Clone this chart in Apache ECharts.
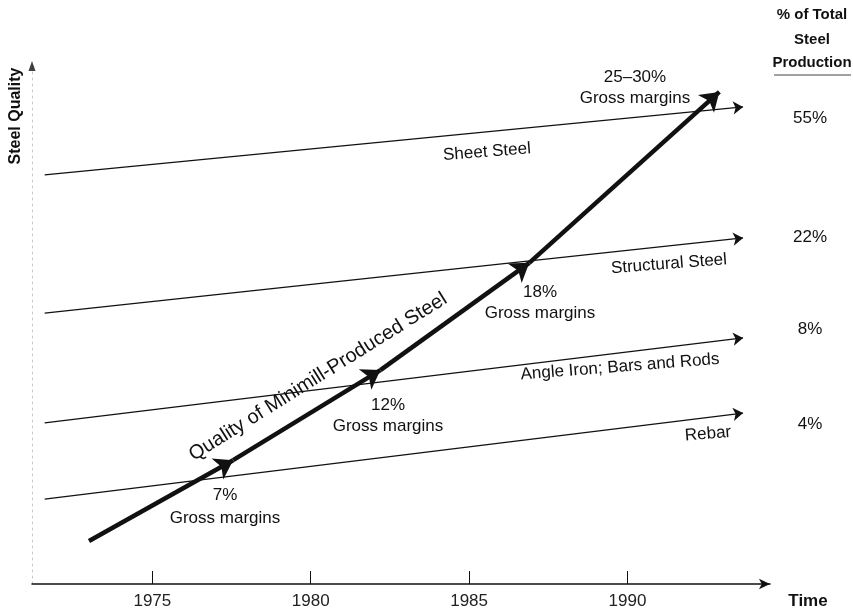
<!DOCTYPE html>
<html>
<head>
<meta charset="utf-8">
<title>Quality of Minimill-Produced Steel</title>
<script src="https://cdn.jsdelivr.net/npm/echarts@6/dist/echarts.min.js"></script>
<style>
    html, body { margin: 0; padding: 0; background: #fff; }
    #chart { width: 853px; height: 611px; }
</style>
</head>
<body>
<div id="chart"></div>
<script>
// time axis
var yearTicks = [1975, 1980, 1985, 1990];
var yearMin = 1971.2;
var yearMax = 1994.5;

// product segments (thin trend arrows), quality on a 0-100 scale
var segmentNames = ['Sheet Steel', 'Structural Steel', 'Angle Iron; Bars and Rods', 'Rebar'];
var segmentStartYear = 1971.6;
var segmentEndYear = 1993.65;
var segmentStartQuality = [79.0, 52.3, 31.1, 16.4];
var segmentEndQuality = [92.1, 66.8, 47.5, 33.0];
var productionShare = ['55%', '22%', '8%', '4%'];

// minimill quality path, arrow tips
var minimillYears = [1973.0, 1977.55, 1982.2, 1986.9, 1992.9];
var minimillQuality = [8.3, 23.9, 41.3, 62.0, 95.0];
var marginLabels = ['7%', '12%', '18%', '25\u201330%'];

var FONT = '"Liberation Sans", Arial, sans-serif';
var INK = '#111';

/**
 * 构造文字元素
 */
function textEl(str, x, y, opts) {
    opts = opts || {};
    return {
        type: 'text',
        x: x,
        y: y,
        rotation: opts.rotation || 0,
        silent: true,
        style: {
            text: str,
            fill: INK,
            font: (opts.weight || 'normal') + ' ' + (opts.size || 17) + 'px ' + FONT,
            textAlign: 'center',
            textVerticalAlign: 'middle',
            verticalAlign: 'middle'
        }
    };
}

function loadChart() {
    var myChart = echarts.init(document.getElementById('chart'), null, {renderer: 'canvas'});

    var segmentLines = segmentStartQuality.map(function (q, i) {
        return {name: segmentNames[i], coords: [[segmentStartYear, q], [segmentEndYear, segmentEndQuality[i]]]};
    });
    var minimillLines = [];
    for (var i = 0; i < minimillYears.length - 1; i++) {
        minimillLines.push({
            coords: [[minimillYears[i], minimillQuality[i]], [minimillYears[i + 1], minimillQuality[i + 1]]]
        });
    }

    var tilt = 4.5 * Math.PI / 180;
    var graphics = [
        // header on the right
        textEl('% of Total', 812, 15, {weight: 'bold', size: 15}),
        textEl('Steel', 812, 40, {weight: 'bold', size: 15}),
        textEl('Production', 812, 63, {weight: 'bold', size: 15}),
        {
            type: 'line', silent: true,
            shape: {x1: 774, y1: 75, x2: 851, y2: 75},
            style: {stroke: '#444', lineWidth: 1}
        },
        textEl(productionShare[0], 810, 118),
        textEl(productionShare[1], 810, 237),
        textEl(productionShare[2], 810, 329),
        textEl(productionShare[3], 810, 424),
        // segment names
        textEl(segmentNames[0], 487, 152, {rotation: tilt}),
        textEl(segmentNames[1], 669, 264, {rotation: tilt}),
        textEl(segmentNames[2], 620, 367, {rotation: tilt}),
        textEl(segmentNames[3], 708, 434, {rotation: tilt}),
        // margins
        textEl(marginLabels[0], 225, 495),
        textEl('Gross margins', 225, 518),
        textEl(marginLabels[1], 388, 405),
        textEl('Gross margins', 388, 426),
        textEl(marginLabels[2], 540, 292),
        textEl('Gross margins', 540, 313),
        textEl(marginLabels[3], 635, 77),
        textEl('Gross margins', 635, 98),
        // path title
        textEl('Quality of Minimill-Produced Steel', 318, 377, {rotation: 32 * Math.PI / 180, size: 20}),
        // axis titles
        textEl('Steel Quality', 16, 116, {rotation: Math.PI / 2, weight: 'bold', size: 16}),
        textEl('Time', 808, 601, {weight: 'bold', size: 17})
    ];

    var option = {
        backgroundColor: '#fff',
        animation: false,
        grid: {left: 32, right: 83, top: 66, bottom: 27},
        xAxis: {
            type: 'value',
            min: yearMin,
            max: yearMax,
            axisLine: {
                show: true,
                symbol: ['none', 'arrow'],
                symbolSize: [8, 11],
                lineStyle: {color: INK, width: 1.5}
            },
            axisTick: {
                show: true,
                inside: true,
                length: 13,
                customValues: yearTicks,
                lineStyle: {color: INK, width: 1}
            },
            axisLabel: {
                customValues: yearTicks,
                formatter: function (v) {
                    return String(v);
                },
                fontSize: 17,
                fontFamily: FONT,
                color: '#222',
                margin: 9
            },
            splitLine: {show: false}
        },
        yAxis: {
            type: 'value',
            min: 0,
            max: 100,
            axisLine: {show: true, lineStyle: {color: '#c8c8c8', width: 1, type: [2, 4]}},
            axisTick: {show: false},
            axisLabel: {show: false},
            splitLine: {show: false}
        },
        series: [{
            name: 'segments',
            type: 'lines',
            coordinateSystem: 'cartesian2d',
            symbol: ['none', 'arrow'],
            symbolSize: 10,
            lineStyle: {color: INK, width: 1.3, opacity: 1},
            data: segmentLines,
            silent: true
        }, {
            name: 'minimill',
            type: 'lines',
            coordinateSystem: 'cartesian2d',
            symbol: ['none', 'arrow'],
            symbolSize: 18,
            lineStyle: {color: INK, width: 4.5, opacity: 1},
            data: minimillLines,
            silent: true,
            z: 3
        }, {
            name: 'axisTop',
            type: 'scatter',
            clip: false,
            symbol: 'triangle',
            symbolSize: [7, 10],
            itemStyle: {color: INK},
            data: [[yearMin, 100]],
            silent: true
        }],
        graphic: graphics
    };
    myChart.setOption(option, true);
}

loadChart();
</script>
</body>
</html>
